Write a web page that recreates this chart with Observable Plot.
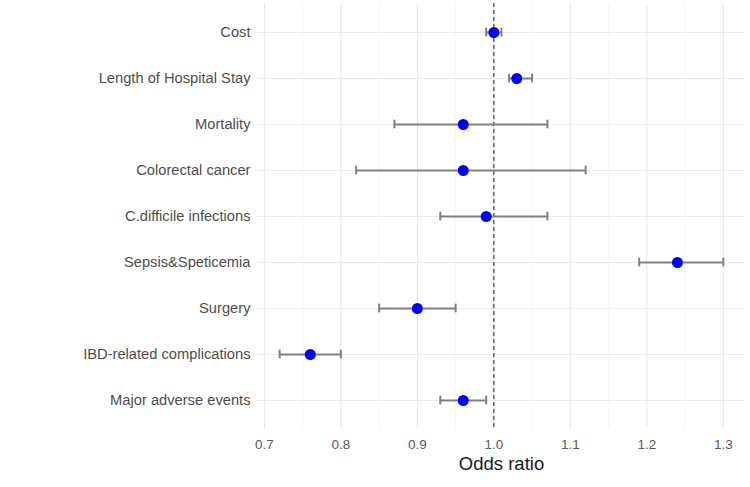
<!DOCTYPE html>
<html>
<head>
<meta charset="utf-8">
<script src="https://cdn.jsdelivr.net/npm/d3@7"></script>
<script src="https://cdn.jsdelivr.net/npm/@observablehq/plot@0.6"></script>
<style>
  html, body { margin: 0; padding: 0; background: #fff; }
  #chart svg { display: block; font-family: "Liberation Sans", Arial, sans-serif; }
</style>
</head>
<body>
<div id="chart"></div>
<script>
const outcomes = ["Cost", "Length of Hospital Stay", "Mortality", "Colorectal cancer",
  "C.difficile infections", "Sepsis&Speticemia", "Surgery", "IBD-related complications",
  "Major adverse events"];
const oddsRatio = [1.00, 1.03, 0.96, 0.96, 0.99, 1.24, 0.90, 0.76, 0.96];
const lower = [0.99, 1.02, 0.87, 0.82, 0.93, 1.19, 0.85, 0.72, 0.93];
const upper = [1.01, 1.05, 1.07, 1.12, 1.07, 1.30, 0.95, 0.80, 0.99];
const majorTicks = [0.7, 0.8, 0.9, 1.0, 1.1, 1.2, 1.3];
const minorTicks = [0.75, 0.85, 0.95, 1.05, 1.15, 1.25];
const refLine = [1.0];
const xLabel = "Odds ratio";

const data = outcomes.map((o, i) => ({outcome: o, or: oddsRatio[i], lo: lower[i], hi: upper[i]}));

const H = 487, mT = 3, mB = 58;
const step = (H - mT - mB) / (outcomes.length + 0.2);
const capInset = step / 2 - 4.5;

const chart = Plot.plot({
  width: 750,
  height: H,
  marginLeft: 257,
  marginRight: 5,
  marginTop: mT,
  marginBottom: mB,
  style: {background: "#fff"},
  x: {domain: [0.691, 1.329]},
  y: {type: "band", domain: outcomes, paddingInner: 0, paddingOuter: 0.1},
  marks: [
    Plot.ruleX(minorTicks, {stroke: "#f0f0f0", strokeWidth: 0.7}),
    Plot.ruleX(majorTicks, {stroke: "#e6e6e6", strokeWidth: 1}),
    Plot.ruleY(outcomes, {y: d => d, stroke: "#ebebeb", strokeWidth: 1}),
    Plot.axisX(majorTicks, {tickSize: 0, tickPadding: 10, tickFormat: d3.format(".1f"),
      fontSize: 13.5, fill: "#5a5a5a", label: null}),
    Plot.axisY({tickSize: 0, tickPadding: 7, fontSize: 14.7, fill: "#4d4d4d", label: null}),
    Plot.ruleX(refLine, {stroke: "#333", strokeWidth: 1.1, strokeDasharray: "4,3"}),
    Plot.ruleY(data, {y: "outcome", x1: "lo", x2: "hi", stroke: "#808080", strokeWidth: 2}),
    Plot.tickX(data, {x: "lo", y: "outcome", stroke: "#808080", strokeWidth: 2, insetTop: capInset, insetBottom: capInset}),
    Plot.tickX(data, {x: "hi", y: "outcome", stroke: "#808080", strokeWidth: 2, insetTop: capInset, insetBottom: capInset}),
    Plot.dot(data, {x: "or", y: "outcome", r: 5.5, fill: "#0000ff", stroke: "none"}),
    Plot.text([xLabel], {frameAnchor: "bottom", lineAnchor: "middle", dy: 35, fontSize: 18.5, fill: "#1a1a1a", text: d => d})
  ]
});
document.getElementById("chart").appendChild(chart);
</script>
</body>
</html>
